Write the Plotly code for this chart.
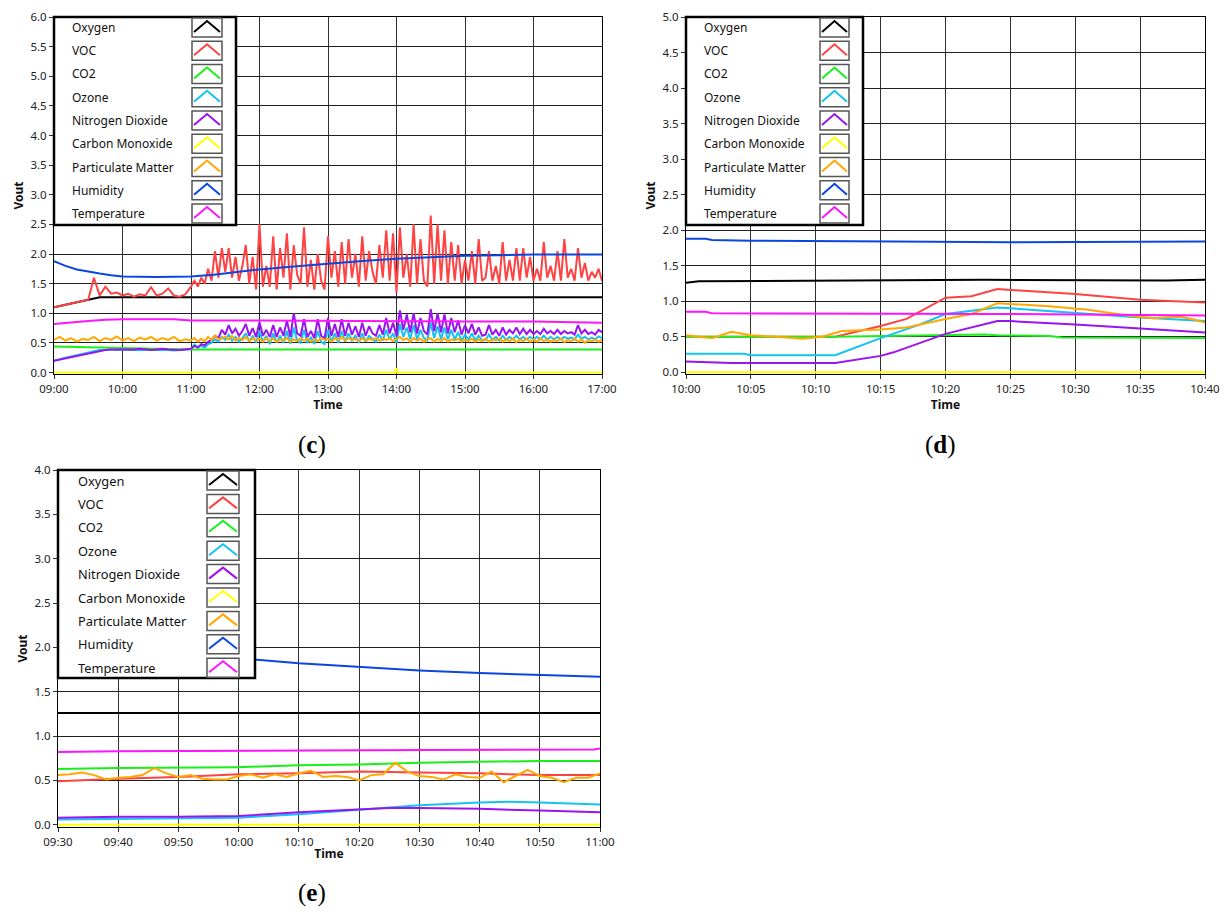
import pandas as pd
import plotly.graph_objects as go

DAY = "2015-06-01 "

# ---------------- names & colours ----------------
SERIES = ["Oxygen", "VOC", "CO2", "Ozone", "Nitrogen Dioxide", "Carbon Monoxide",
          "Particulate Matter", "Humidity", "Temperature"]
COLORS = {"Oxygen": "#000000", "VOC": "#ff4343", "CO2": "#19f019", "Ozone": "#12c3f3",
          "Nitrogen Dioxide": "#9a14f0", "Carbon Monoxide": "#ffff00",
          "Particulate Matter": "#ffa800", "Humidity": "#0a46e0", "Temperature": "#ff14ff"}

# ================= panel (c) : 09:00 - 17:00 =================
c_time_a = pd.date_range(DAY + "09:00", DAY + "10:55", freq="5min")   # 24 samples
c_time_b = pd.date_range(DAY + "11:00", DAY + "17:00", freq="3min")   # 121 samples
c_fast_time = c_time_a.append(c_time_b)

c_voc_a = [1.10, 1.12, 1.14, 1.17, 1.19, 1.21, 1.23, 1.60, 1.30, 1.45, 1.33, 1.35,
           1.30, 1.33, 1.28, 1.32, 1.30, 1.44, 1.30, 1.33, 1.42, 1.30, 1.28, 1.32]
c_voc_b = [1.45, 1.55, 1.45, 1.60, 1.50, 1.75, 1.55, 2.05, 1.60, 2.10,
           1.70, 2.10, 1.60, 1.95, 1.55, 1.80, 2.15, 1.50, 1.95, 1.40,
           2.50, 1.45, 1.80, 1.45, 2.30, 1.40, 2.10, 1.60, 2.35, 1.40,
           2.15, 1.65, 1.50, 2.45, 1.45, 1.90, 1.40, 2.00, 1.55, 1.40,
           2.30, 1.60, 2.05, 1.45, 2.20, 1.50, 2.25, 1.60, 2.00, 1.45,
           2.30, 1.55, 2.05, 1.70, 1.50, 2.15, 1.60, 2.40, 1.55, 2.35,
           1.35, 2.45, 1.60, 2.00, 1.45, 2.50, 1.50, 2.25, 1.55, 1.45,
           2.65, 1.50, 2.50, 1.55, 2.40, 1.50, 2.20, 1.55, 2.15, 1.50,
           1.90, 1.55, 2.05, 1.50, 2.25, 1.55, 1.60, 2.05, 1.55, 1.80,
           1.50, 2.20, 1.55, 1.90, 1.55, 2.10, 1.55, 2.10, 1.60, 1.95,
           1.55, 1.75, 1.55, 2.20, 1.60, 1.80, 1.55, 2.05, 1.55, 2.25,
           1.60, 1.75, 1.55, 2.10, 1.60, 1.85, 1.55, 1.70, 1.60, 1.75,
           1.55]

c_no2_a = [0.20, 0.22, 0.24, 0.26, 0.28, 0.30, 0.32, 0.35, 0.37, 0.38, 0.39, 0.39,
           0.38, 0.38, 0.39, 0.40, 0.39, 0.38, 0.39, 0.40, 0.39, 0.38, 0.38, 0.39]
c_no2_b = [0.40, 0.45, 0.42, 0.48, 0.46, 0.52, 0.55, 0.62, 0.58, 0.72,
           0.64, 0.80, 0.66, 0.74, 0.62, 0.70, 0.82, 0.62, 0.75, 0.60,
           0.85, 0.62, 0.72, 0.60, 0.80, 0.60, 0.76, 0.62, 0.88, 0.60,
           1.00, 0.66, 0.62, 0.90, 0.60, 0.70, 0.58, 0.90, 0.62, 0.58,
           0.92, 0.62, 0.82, 0.60, 0.90, 0.62, 0.84, 0.64, 0.78, 0.60,
           0.84, 0.62, 0.78, 0.66, 0.62, 0.80, 0.64, 0.92, 0.66, 0.84,
           0.62, 1.05, 0.72, 0.98, 0.68, 1.00, 0.66, 0.92, 0.70, 0.64,
           1.07, 0.70, 1.00, 0.68, 0.98, 0.66, 0.92, 0.68, 0.88, 0.64,
           0.80, 0.66, 0.82, 0.64, 0.76, 0.62, 0.64, 0.80, 0.64, 0.72,
           0.62, 0.76, 0.64, 0.72, 0.66, 0.76, 0.65, 0.74, 0.65, 0.72,
           0.65, 0.70, 0.65, 0.74, 0.66, 0.70, 0.65, 0.72, 0.65, 0.70,
           0.66, 0.68, 0.64, 0.80, 0.66, 0.72, 0.65, 0.68, 0.64, 0.72,
           0.68]

c_ozone_a = [0.20, 0.23, 0.25, 0.27, 0.29, 0.31, 0.33, 0.36, 0.38, 0.38, 0.39, 0.38,
             0.39, 0.38, 0.38, 0.39, 0.38, 0.39, 0.38, 0.39, 0.38, 0.37, 0.38, 0.38]
c_ozone_b = [0.40, 0.47, 0.43, 0.45, 0.42, 0.48, 0.50, 0.56, 0.52, 0.60,
             0.55, 0.64, 0.54, 0.60, 0.52, 0.58, 0.66, 0.52, 0.62, 0.50,
             0.70, 0.52, 0.62, 0.48, 0.66, 0.50, 0.62, 0.50, 0.70, 0.48,
             0.76, 0.54, 0.50, 0.72, 0.50, 0.60, 0.48, 0.70, 0.52, 0.48,
             0.72, 0.52, 0.66, 0.50, 0.70, 0.52, 0.66, 0.54, 0.62, 0.50,
             0.66, 0.52, 0.62, 0.56, 0.52, 0.64, 0.54, 0.72, 0.56, 0.66,
             0.50, 0.82, 0.60, 0.76, 0.56, 0.80, 0.56, 0.72, 0.58, 0.54,
             0.84, 0.58, 0.78, 0.56, 0.76, 0.56, 0.72, 0.56, 0.68, 0.54,
             0.64, 0.56, 0.66, 0.54, 0.62, 0.54, 0.55, 0.64, 0.55, 0.60,
             0.54, 0.62, 0.55, 0.60, 0.56, 0.62, 0.56, 0.60, 0.56, 0.60,
             0.56, 0.60, 0.56, 0.62, 0.56, 0.60, 0.56, 0.60, 0.56, 0.60,
             0.57, 0.59, 0.56, 0.64, 0.57, 0.60, 0.56, 0.59, 0.56, 0.61,
             0.58]

c_pm_a = [0.55, 0.60, 0.54, 0.58, 0.52, 0.57, 0.55, 0.60, 0.53, 0.58, 0.55, 0.61,
          0.54, 0.58, 0.53, 0.59, 0.56, 0.60, 0.54, 0.58, 0.55, 0.60, 0.53, 0.56]
c_pm_b = [0.54, 0.58, 0.52, 0.57, 0.53, 0.60, 0.55, 0.62, 0.56, 0.58,
          0.60, 0.56, 0.62, 0.54, 0.58, 0.55, 0.60, 0.53, 0.58, 0.54,
          0.57, 0.52, 0.58, 0.53, 0.57, 0.52, 0.56, 0.54, 0.58, 0.52,
          0.56, 0.53, 0.58, 0.54, 0.57, 0.52, 0.56, 0.53, 0.58, 0.55,
          0.57, 0.52, 0.58, 0.55, 0.60, 0.54, 0.58, 0.55, 0.57, 0.53,
          0.58, 0.54, 0.57, 0.55, 0.58, 0.54, 0.57, 0.55, 0.58, 0.53,
          0.56, 0.60, 0.55, 0.58, 0.52, 0.58, 0.54, 0.57, 0.52, 0.56,
          0.58, 0.52, 0.57, 0.53, 0.58, 0.52, 0.56, 0.54, 0.57, 0.52,
          0.56, 0.53, 0.57, 0.52, 0.56, 0.53, 0.57, 0.52, 0.56, 0.54,
          0.57, 0.52, 0.56, 0.53, 0.57, 0.51, 0.56, 0.53, 0.57, 0.52,
          0.56, 0.52, 0.57, 0.53, 0.56, 0.52, 0.55, 0.53, 0.57, 0.51,
          0.55, 0.53, 0.57, 0.52, 0.56, 0.50, 0.55, 0.53, 0.56, 0.52,
          0.55]

c_hum_time = ["09:00", "09:10", "09:20", "09:30", "09:40", "09:50", "10:00", "10:30",
              "11:00", "11:20", "11:40", "12:00", "12:30", "13:00", "13:30", "14:00",
              "14:30", "15:00", "15:30", "16:00", "17:00"]
c_hum = [1.88, 1.80, 1.74, 1.70, 1.67, 1.64, 1.62, 1.61, 1.62, 1.65, 1.70, 1.74,
         1.79, 1.84, 1.88, 1.92, 1.95, 1.97, 1.98, 1.99, 1.99]

c_temp_time = ["09:00", "09:15", "09:30", "09:45", "10:00", "10:45", "11:00", "12:00",
               "13:00", "14:00", "15:00", "16:00", "16:40", "17:00"]
c_temp = [0.82, 0.85, 0.87, 0.89, 0.90, 0.90, 0.88, 0.88, 0.87, 0.87, 0.86, 0.86, 0.85, 0.84]

c_co2_time = ["09:00", "09:30", "10:00", "10:30", "11:00", "17:00"]
c_co2 = [0.44, 0.43, 0.41, 0.40, 0.39, 0.39]

c_oxy_time = ["09:00", "09:35", "09:40", "11:00", "13:00", "15:00", "17:00"]
c_oxy = [1.10, 1.24, 1.27, 1.27, 1.27, 1.27, 1.27]

c_co_time = ["09:00", "13:59", "14:00", "14:01", "17:00"]
c_co = [0.0, 0.0, 0.07, 0.0, 0.0]

# ================= panel (d) : 10:00 - 10:40 =================
d_hum_time = ["10:00", "10:01:30", "10:02", "10:05", "10:16", "10:22", "10:25", "10:40"]
d_hum = [1.88, 1.88, 1.86, 1.85, 1.84, 1.83, 1.83, 1.84]
d_oxy_time = ["10:00", "10:01", "10:23", "10:37", "10:40"]
d_oxy = [1.26, 1.28, 1.30, 1.29, 1.30]
d_voc_time = ["10:00", "10:11:30", "10:15", "10:17", "10:20", "10:22", "10:24", "10:25",
              "10:30", "10:35", "10:40"]
d_voc = [0.50, 0.50, 0.65, 0.75, 1.05, 1.07, 1.17, 1.16, 1.10, 1.02, 0.98]
d_temp_time = ["10:00", "10:01:30", "10:02", "10:24", "10:40"]
d_temp = [0.85, 0.85, 0.83, 0.82, 0.80]
d_pm_time = ["10:00", "10:01", "10:02", "10:03:30", "10:05", "10:07", "10:09", "10:10:30",
             "10:12", "10:15", "10:17", "10:20", "10:22", "10:24", "10:25", "10:28",
             "10:31", "10:34", "10:36", "10:38", "10:39", "10:40"]
d_pm = [0.52, 0.50, 0.48, 0.57, 0.52, 0.50, 0.47, 0.50, 0.58, 0.60, 0.63, 0.75, 0.82,
        0.97, 0.96, 0.93, 0.88, 0.80, 0.76, 0.78, 0.75, 0.70]
d_ozone_time = ["10:00", "10:04:30", "10:05", "10:11:30", "10:15", "10:18", "10:20",
                "10:22", "10:24", "10:25", "10:30", "10:35", "10:40"]
d_ozone = [0.26, 0.26, 0.24, 0.24, 0.48, 0.67, 0.82, 0.86, 0.91, 0.90, 0.83, 0.77, 0.72]
d_no2_time = ["10:00", "10:03:30", "10:11:30", "10:15", "10:16", "10:20", "10:24",
              "10:25", "10:30", "10:35", "10:40"]
d_no2 = [0.15, 0.13, 0.13, 0.23, 0.28, 0.54, 0.72, 0.72, 0.67, 0.61, 0.56]
d_co2_time = ["10:00", "10:11:30", "10:23", "10:24", "10:28", "10:29", "10:40"]
d_co2 = [0.50, 0.50, 0.53, 0.52, 0.51, 0.49, 0.48]
d_co_time = ["10:00", "10:40"]
d_co = [0.0, 0.0]

# ================= panel (e) : 09:30 - 11:00 =================
e_hum_time = ["09:30", "09:45", "10:00", "10:10", "10:20", "10:30", "10:40", "10:50", "11:00"]
e_hum = [2.00, 1.94, 1.88, 1.82, 1.78, 1.74, 1.71, 1.69, 1.67]
e_oxy_time = ["09:30", "10:15", "11:00"]
e_oxy = [1.26, 1.26, 1.26]
e_temp_time = ["09:30", "09:40", "10:20", "10:59", "11:00"]
e_temp = [0.82, 0.83, 0.84, 0.85, 0.86]
e_co2_time = ["09:30", "09:40", "10:00", "10:10", "10:20", "10:30", "10:40", "10:50", "11:00"]
e_co2 = [0.63, 0.64, 0.65, 0.67, 0.68, 0.70, 0.71, 0.72, 0.72]
e_voc_time = ["09:30", "09:40", "09:50", "10:00", "10:10", "10:20", "10:30", "10:40", "10:50", "11:00"]
e_voc = [0.49, 0.52, 0.54, 0.57, 0.58, 0.60, 0.59, 0.58, 0.56, 0.56]
e_pm_time = pd.date_range(DAY + "09:30", DAY + "11:00", freq="2min")   # 46 samples
e_pm = [0.56, 0.57, 0.59, 0.56, 0.51, 0.53, 0.54, 0.56, 0.64, 0.58, 0.54, 0.56, 0.52,
        0.51, 0.51, 0.55, 0.57, 0.53, 0.57, 0.54, 0.58, 0.61, 0.54, 0.55, 0.54, 0.50,
        0.56, 0.57, 0.70, 0.60, 0.55, 0.54, 0.51, 0.57, 0.54, 0.53, 0.60, 0.48, 0.55,
        0.62, 0.55, 0.53, 0.48, 0.53, 0.53, 0.58]
e_ozone_time = ["09:30", "09:50", "10:00", "10:10", "10:20", "10:30", "10:40", "10:45", "10:50", "11:00"]
e_ozone = [0.06, 0.07, 0.08, 0.12, 0.17, 0.22, 0.25, 0.26, 0.25, 0.23]
e_no2_time = ["09:30", "09:40", "09:50", "10:00", "10:10", "10:20", "10:25", "10:30", "10:40", "10:50", "11:00"]
e_no2 = [0.08, 0.09, 0.09, 0.10, 0.14, 0.17, 0.19, 0.19, 0.18, 0.16, 0.14]
e_co_time = ["09:30", "11:00"]
e_co = [0.0, 0.0]


def T(lst):
    if isinstance(lst, pd.DatetimeIndex):
        return [d.strftime("%Y-%m-%d %H:%M:%S") for d in lst]
    out = []
    for s in lst:
        out.append(DAY + (s if s.count(":") == 2 else s + ":00"))
    return out


panels = [
    ("x", "y", {
        "Oxygen": (c_oxy_time, c_oxy),
        "VOC": (c_fast_time, c_voc_a + c_voc_b),
        "CO2": (c_co2_time, c_co2),
        "Ozone": (c_fast_time, c_ozone_a + c_ozone_b),
        "Nitrogen Dioxide": (c_fast_time, c_no2_a + c_no2_b),
        "Carbon Monoxide": (c_co_time, c_co),
        "Particulate Matter": (c_fast_time, c_pm_a + c_pm_b),
        "Humidity": (c_hum_time, c_hum),
        "Temperature": (c_temp_time, c_temp),
    }),
    ("x2", "y2", {
        "Oxygen": (d_oxy_time, d_oxy),
        "VOC": (d_voc_time, d_voc),
        "CO2": (d_co2_time, d_co2),
        "Ozone": (d_ozone_time, d_ozone),
        "Nitrogen Dioxide": (d_no2_time, d_no2),
        "Carbon Monoxide": (d_co_time, d_co),
        "Particulate Matter": (d_pm_time, d_pm),
        "Humidity": (d_hum_time, d_hum),
        "Temperature": (d_temp_time, d_temp),
    }),
    ("x3", "y3", {
        "Oxygen": (e_oxy_time, e_oxy),
        "VOC": (e_voc_time, e_voc),
        "CO2": (e_co2_time, e_co2),
        "Ozone": (e_ozone_time, e_ozone),
        "Nitrogen Dioxide": (e_no2_time, e_no2),
        "Carbon Monoxide": (e_co_time, e_co),
        "Particulate Matter": (e_pm_time, e_pm),
        "Humidity": (e_hum_time, e_hum),
        "Temperature": (e_temp_time, e_temp),
    }),
]

fig = go.Figure()
for xa, ya, data in panels:
    for name in SERIES:
        tt, vv = data[name]
        fig.add_trace(go.Scatter(x=T(tt), y=vv, mode="lines", name=name, xaxis=xa, yaxis=ya,
                                 showlegend=False, hoverinfo="skip",
                                 line=dict(color=COLORS[name], width=2)))

W, H = 1224, 912


def px(x):
    return x / W


def py(y):
    return 1 - y / H


FONT = "Noto Sans"
tickfont = dict(family=FONT, size=11.5, color="#222")


def xaxis(dom, r0, r1, dtick, anchor):
    return dict(domain=[px(dom[0]), px(dom[1])], anchor=anchor, automargin=False,
                range=[DAY + r0, DAY + r1], type="date", tickformat="%H:%M",
                dtick=dtick, tick0=DAY + r0, ticklabeloverflow="allow",
                showline=True, linecolor="#000", linewidth=1, mirror=True,
                showgrid=True, gridcolor="#303030", gridwidth=1.3,
                ticks="outside", ticklen=4, tickcolor="#333", tickfont=tickfont,
                title=dict(text="<b>Time</b>", font=dict(family=FONT, size=12, color="#111"), standoff=1),
                zeroline=False)


def yaxis(dom, top, anchor):
    return dict(domain=[py(dom[1]), py(dom[0])], anchor=anchor, automargin=False,
                range=[-0.025, top], tick0=0, dtick=0.5, tickformat=".1f",
                ticklabeloverflow="allow",
                showline=True, linecolor="#000", linewidth=1, mirror=True,
                showgrid=True, gridcolor="#202020", gridwidth=1.2,
                ticks="outside", ticklen=4, tickcolor="#333", tickfont=tickfont,
                title=dict(text="<b>Vout</b>", font=dict(family=FONT, size=12, color="#111"), standoff=4),
                zeroline=False)


fig.update_layout(
    width=W, height=H, margin=dict(l=0, r=0, t=0, b=0, autoexpand=False),
    paper_bgcolor="white", plot_bgcolor="white", showlegend=False,
    xaxis=xaxis((54, 602), "09:00", "17:00", 3600000, "y"),
    yaxis=yaxis((17, 374), 6.0, "x"),
    xaxis2=xaxis((686, 1205), "10:00", "10:40", 300000, "y2"),
    yaxis2=yaxis((17, 374), 5.0, "x2"),
    xaxis3=xaxis((58, 600), "09:30", "11:00", 600000, "y3"),
    yaxis3=yaxis((470, 827), 4.0, "x3"),
)

# ---------------- custom legends (text left, icon right) ----------------
shapes = []
annotations = []
legend_boxes = [
    # box x0, y0, x1, y1, text x, icon x0, icon x1, first row centre, row step, font size
    (54, 17, 236, 225, 70, 192, 222, 27.5, 23.25, 12),
    (686, 17, 863, 225, 702, 820, 849, 27.5, 23.25, 12),
    (58, 470, 255, 678, 76, 207, 239, 480.5, 23.4, 12.8),
]
for (bx0, by0, bx1, by1, tx, ix0, ix1, r0, step, fs) in legend_boxes:
    shapes.append(dict(type="rect", xref="paper", yref="paper",
                       x0=px(bx0), x1=px(bx1), y0=py(by1), y1=py(by0),
                       fillcolor="white", line=dict(color="#000", width=2.5), layer="above"))
    for i, name in enumerate(SERIES):
        cy = r0 + i * step
        shapes.append(dict(type="rect", xref="paper", yref="paper",
                           x0=px(ix0), x1=px(ix1), y0=py(cy + 9.5), y1=py(cy - 9.5),
                           fillcolor="white", line=dict(color="#555", width=1.5), layer="above"))
        xm = (ix0 + ix1) / 2
        path = "M {:.5f},{:.5f} L {:.5f},{:.5f} L {:.5f},{:.5f}".format(
            px(ix0 + 2), py(cy + 4.5), px(xm), py(cy - 6.5), px(ix1 - 2), py(cy + 4.5))
        shapes.append(dict(type="path", xref="paper", yref="paper", path=path,
                           line=dict(color=COLORS[name], width=2), layer="above"))
        annotations.append(dict(xref="paper", yref="paper", x=px(tx), y=py(cy),
                                text=name, showarrow=False, xanchor="left", yanchor="middle",
                                font=dict(family=FONT, size=fs, color="#111")))

# panel captions
for lab, cx, cy in [("c", 312, 445), ("d", 940, 445), ("e", 312, 893)]:
    annotations.append(dict(xref="paper", yref="paper", x=px(cx), y=py(cy),
                            text="(<b>" + lab + "</b>)", showarrow=False,
                            xanchor="center", yanchor="middle",
                            font=dict(family="Liberation Serif", size=25, color="#000")))

fig.update_layout(shapes=shapes, annotations=annotations)

fig.write_html("out.html", config={"displayModeBar": False},
               post_script="document.body.style.margin='0';")
